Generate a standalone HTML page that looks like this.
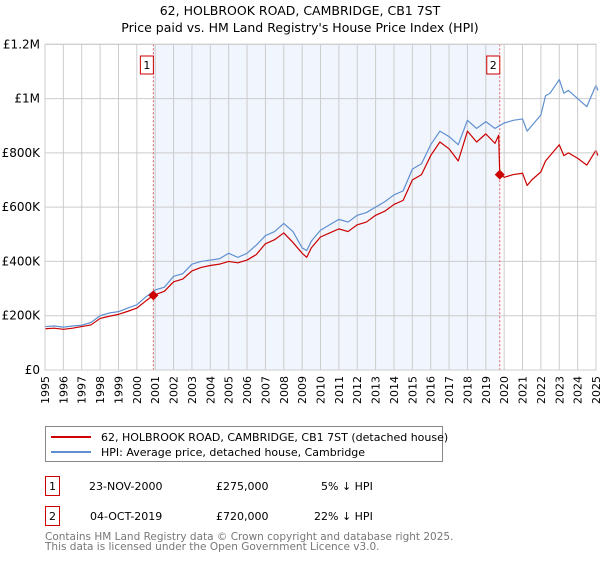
<!DOCTYPE html>
<html><head><meta charset="utf-8"><style>
body{margin:0;background:#fff;font-family:"DejaVu Sans","Liberation Sans",sans-serif;}
svg text{font-family:"DejaVu Sans","Liberation Sans",sans-serif;}
</style></head><body>
<svg width="600" height="560" viewBox="0 0 600 560" xmlns="http://www.w3.org/2000/svg">
<text x="300" y="15" text-anchor="middle" font-size="12.5" fill="#000">62, HOLBROOK ROAD, CAMBRIDGE, CB1 7ST</text>
<text x="300" y="32" text-anchor="middle" font-size="12.5" fill="#000">Price paid vs. HM Land Registry's House Price Index (HPI)</text>
<g id="plot"></g>
<g>
<rect x="45.5" y="426.5" width="397" height="35" fill="#fff" stroke="#888"/>
<line x1="51" y1="437" x2="91" y2="437" stroke="#cc0000" stroke-width="2"/>
<text x="101" y="441" font-size="11">62, HOLBROOK ROAD, CAMBRIDGE, CB1 7ST (detached house)</text>
<line x1="51" y1="452" x2="91" y2="452" stroke="#5f8fd0" stroke-width="2"/>
<text x="101" y="456" font-size="11">HPI: Average price, detached house, Cambridge</text>
</g>
<g font-size="11">
<rect x="45.5" y="476.5" width="14" height="19" fill="#fff" stroke="#cc0000"/>
<text x="52.5" y="490" text-anchor="middle">1</text>
<text x="89" y="490">23-NOV-2000</text>
<text x="216" y="490">£275,000</text>
<text x="321" y="490">5% ↓ HPI</text>
</g>
<g font-size="11">
<rect x="45.5" y="506.5" width="14" height="19" fill="#fff" stroke="#cc0000"/>
<text x="52.5" y="520" text-anchor="middle">2</text>
<text x="90" y="520">04-OCT-2019</text>
<text x="216" y="520">£720,000</text>
<text x="314" y="520">22% ↓ HPI</text>
</g>
<text x="45" y="540" font-size="10.5" fill="#777">Contains HM Land Registry data © Crown copyright and database right 2025.</text>
<text x="45" y="550" font-size="10.5" fill="#777">This data is licensed under the Open Government Licence v3.0.</text>
</svg>
<script>
const hpiYears=[1995,1995.5,1996,1996.5,1997,1997.5,1998,1998.5,1999,1999.5,2000,2000.5,2001,2001.5,2002,2002.5,2003,2003.5,2004,2004.5,2005,2005.5,2006,2006.5,2007,2007.5,2008,2008.5,2009,2009.25,2009.5,2010,2010.5,2011,2011.5,2012,2012.5,2013,2013.5,2014,2014.5,2015,2015.5,2016,2016.5,2017,2017.5,2018,2018.5,2019,2019.5,2020,2020.5,2021,2021.25,2021.5,2022,2022.25,2022.5,2023,2023.25,2023.5,2024,2024.5,2025,2025.1];
const hpiValues=[160,162,158,162,165,175,200,210,215,228,240,270,295,305,345,355,390,400,405,410,430,415,430,460,495,510,540,510,450,440,475,515,535,555,545,570,580,600,620,645,660,740,760,830,880,860,830,920,890,915,890,910,920,925,880,900,940,1010,1020,1070,1020,1030,1000,970,1050,1030];
const redYears=[1995,1995.5,1996,1996.5,1997,1997.5,1998,1998.5,1999,1999.5,2000,2000.5,2000.9,2001.5,2002,2002.5,2003,2003.5,2004,2004.5,2005,2005.5,2006,2006.5,2007,2007.5,2008,2008.5,2009,2009.25,2009.5,2010,2010.5,2011,2011.5,2012,2012.5,2013,2013.5,2014,2014.5,2015,2015.5,2016,2016.5,2017,2017.5,2018,2018.5,2019,2019.5,2019.7,2019.76,2020,2020.5,2021,2021.25,2021.5,2022,2022.25,2022.5,2023,2023.25,2023.5,2024,2024.5,2025,2025.1];
const redValues=[152,154,150,154,160,166,190,198,205,216,228,255,275,290,325,335,365,378,385,390,400,395,405,425,465,480,505,470,430,415,450,490,505,520,510,535,545,570,585,610,625,700,720,790,840,815,770,880,840,870,835,865,720,710,720,725,680,700,730,770,790,830,790,800,780,755,810,790];
const tickValues=[0,200,400,600,800,1000,1200];
const tickLabels=["£0","£200K","£400K","£600K","£800K","£1M","£1.2M"];
const saleYears=[2000.9,2019.76];
const saleValues=[275,720];
const saleLabels=["1","2"];
const X0=45,X1=596,Y0=370,Y1=44.3;
const xs=y=>X0+(y-1995)/30*(X1-X0);
const ys=v=>Y0-v/1200*(Y0-Y1);
const NS="http://www.w3.org/2000/svg";
const g=document.getElementById('plot');
function mk(t,a){const e=document.createElementNS(NS,t);for(const k in a)e.setAttribute(k,a[k]);g.appendChild(e);return e;}
let r=mk('rect',{x:xs(saleYears[0]),y:Y1,width:xs(saleYears[1])-xs(saleYears[0]),height:Y0-Y1,fill:'#eef3fc',opacity:0.8});


for(let y=1995;y<=2025;y++){const l=mk('line',{x1:xs(y),x2:xs(y),y1:Y1,y2:Y0,stroke:'#cccccc','stroke-width':1});


const t=mk('text',{x:0,y:0,'font-size':11,'text-anchor':'end',transform:`translate(${xs(y)+4},${Y0+6}) rotate(-90)`});t.textContent=y;

}
tickValues.forEach((v,i)=>{const l=mk('line',{x1:X0,x2:X1,y1:ys(v),y2:ys(v),stroke:'#cccccc','stroke-width':1});


const t=mk('text',{x:X0-5,y:ys(v)+4,'font-size':12,'text-anchor':'end'});t.textContent=tickLabels[i];

});
saleYears.forEach((sy,i)=>{const l=mk('line',{x1:xs(sy),x2:xs(sy),y1:Y1,y2:Y0,stroke:'#e06060','stroke-width':1,'stroke-dasharray':'2,2'});


const b=mk('rect',{x:xs(sy)-13,y:56,width:13,height:18,fill:'#fff',stroke:'#cc0000'});


const t=mk('text',{x:xs(sy)-6.5,y:69,'font-size':11,'text-anchor':'middle'});t.textContent=saleLabels[i];

});
function path(xa,va,c,n){const p=mk('polyline',{points:xa.map((x,i)=>xs(x)+','+ys(va[i])).join(' '),fill:'none',stroke:c,'stroke-width':1.2,'stroke-linejoin':'round'});

}
path(hpiYears,hpiValues,'#5f8fd0','hpi-line');
path(redYears,redValues,'#cc0000','price-paid-line');
saleYears.forEach((sy,i)=>{const cx=xs(sy),cy=ys(saleValues[i]);const d=mk('polygon',{points:`${cx},${cy-5} ${cx+5},${cy} ${cx},${cy+5} ${cx-5},${cy}`,fill:'#cc0000'});

});
const ax=mk('rect',{x:X0,y:Y1,width:X1-X0,height:Y0-Y1,fill:'none',stroke:'#cccccc'});


</script>
</body></html>
